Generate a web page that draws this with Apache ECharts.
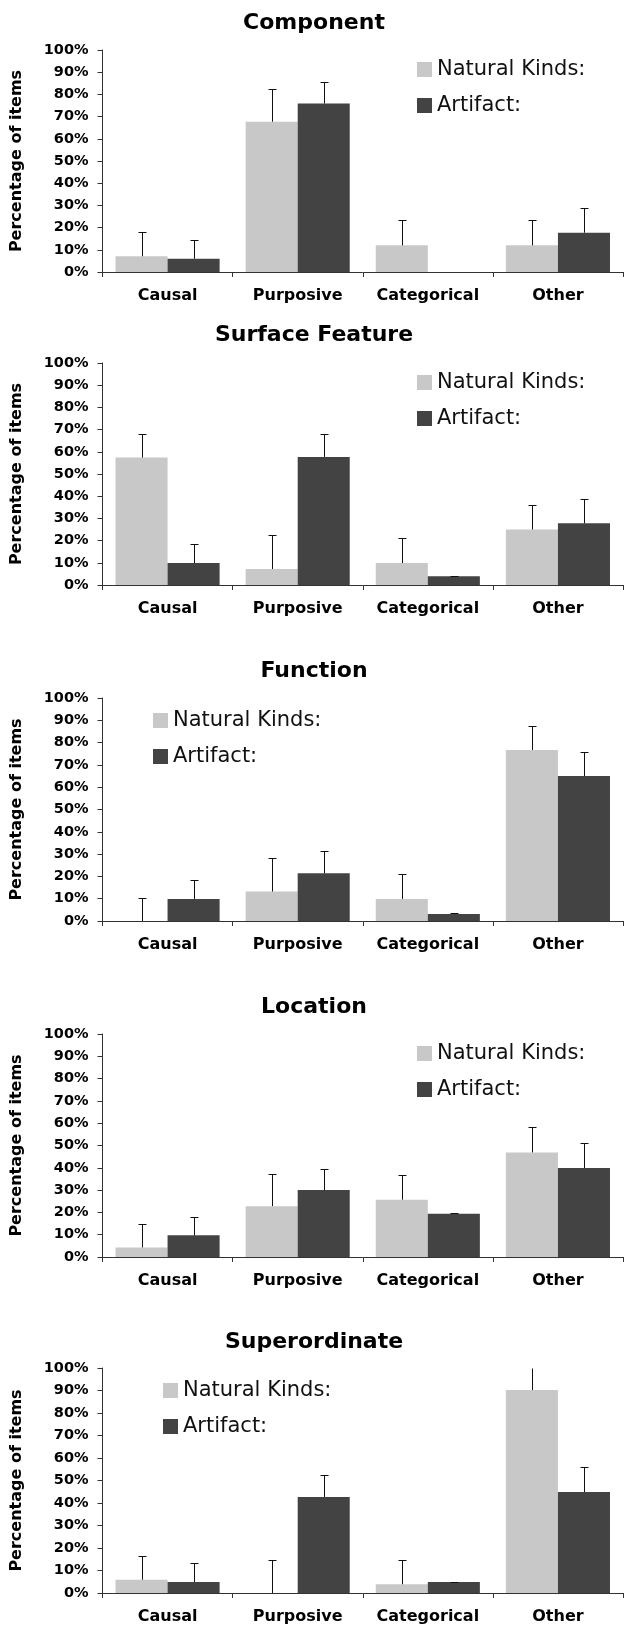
<!DOCTYPE html>
<html>
<head>
<meta charset="utf-8">
<script src="https://cdn.jsdelivr.net/npm/echarts@6/dist/echarts.min.js"></script>
<style>
html,body{margin:0;padding:0;background:#fff;}
#c{width:624px;height:1625px;}
</style>
</head>
<body>
<div id="c"></div>
<script>
// ---- data ----
const categories = ['Causal', 'Purposive', 'Categorical', 'Other'];
const panelTitles = ['Component', 'Surface Feature', 'Function', 'Location', 'Superordinate'];
const seriesNames = ['Natural Kinds:', 'Artifact:'];
const yTickLabels = ['0%','10%','20%','30%','40%','50%','60%','70%','80%','90%','100%'];

// Component
const componentNatural      = [7.1, 67.7, 12.0, 12.0];
const componentNaturalErr   = [17.9, 82.3, 23.3, 23.3];
const componentArtifact     = [6.0, 75.9, 0, 17.7];
const componentArtifactErr  = [14.6, 85.6, null, 28.9];
// Surface Feature
const surfaceNatural        = [57.4, 7.2, 9.9, 25.0];
const surfaceNaturalErr     = [67.8, 22.3, 21.1, 36.2];
const surfaceArtifact       = [9.9, 57.7, 3.9, 27.8];
const surfaceArtifactErr    = [18.3, 67.8, 4.1, 38.9];
// Function
const functionNatural       = [0, 13.2, 9.9, 76.7];
const functionNaturalErr    = [10.5, 28.1, 20.9, 87.6];
const functionArtifact      = [9.9, 21.4, 3.1, 65.0];
const functionArtifactErr   = [18.2, 31.5, 3.4, 75.6];
// Location
const locationNatural       = [4.3, 22.8, 25.7, 46.9];
const locationNaturalErr    = [14.8, 37.3, 36.7, 58.1];
const locationArtifact      = [9.7, 30.0, 19.4, 39.9];
const locationArtifactErr   = [18.1, 39.4, 19.6, 50.9];
// Superordinate
const superNatural          = [5.9, 0, 3.9, 90.2];
const superNaturalErr       = [16.4, 14.8, 14.8, 102];
const superArtifact         = [4.9, 42.7, 4.9, 44.9];
const superArtifactErr      = [13.2, 52.6, 5.0, 55.9];

const panels = [
  [componentNatural, componentNaturalErr, componentArtifact, componentArtifactErr],
  [surfaceNatural, surfaceNaturalErr, surfaceArtifact, surfaceArtifactErr],
  [functionNatural, functionNaturalErr, functionArtifact, functionArtifactErr],
  [locationNatural, locationNaturalErr, locationArtifact, locationArtifactErr],
  [superNatural, superNaturalErr, superArtifact, superArtifactErr]
];

// ---- layout ----
const gridTops = [50, 363, 698, 1034, 1368];
const gridHeights = [222, 222, 223, 223, 225];
const titleTops = [12, 324, 660, 996, 1331];
const legendPos = [[417, 59], [417, 372], [153, 710], [417, 1043], [163, 1380]];
const FONT = 'DejaVu Sans';
const LIGHT = '#c8c8c8', DARK = '#434343', AXIS = '#333';

function errRenderer(sign) {
  return function (params, api) {
    const idx = api.value(0), v = api.value(1);
    let up = api.value(2);
    const clipped = up > 100;
    if (clipped) up = 100;
    const base = api.coord([idx, v]);
    const top = api.coord([idx, up]);
    const band = api.size([1, 0])[0];
    const bw = band * 0.8 / 2;
    const x = Math.round(base[0] + sign * bw / 2) + 0.5;
    const yt = Math.round(top[1]) + 0.5;
    const children = [{
      type: 'line', shape: {x1: x, y1: base[1], x2: x, y2: yt},
      style: {stroke: '#111', lineWidth: 1}
    }];
    if (!clipped) {
      children.push({
        type: 'line', shape: {x1: x - 4, y1: yt, x2: x + 4, y2: yt},
        style: {stroke: '#111', lineWidth: 1}
      });
    }
    return {type: 'group', children};
  };
}

const option = {
  animation: false,
  backgroundColor: '#fff',
  title: [], grid: [], xAxis: [], yAxis: [], legend: [], series: []
};

panels.forEach((p, i) => {
  option.title.push({
    text: panelTitles[i], left: 314, textAlign: 'center', top: titleTops[i], padding: 0,
    textStyle: {fontFamily: FONT, fontWeight: 'bold', fontSize: 22, color: '#000'}
  });
  option.grid.push({left: 102.5, right: 1, top: gridTops[i], height: gridHeights[i]});
  option.xAxis.push({
    type: 'category', gridIndex: i, data: categories,
    axisLine: {lineStyle: {color: AXIS, width: 1}},
    axisTick: {show: true, length: 5, lineStyle: {color: AXIS}},
    axisLabel: {interval: 0, hideOverlap: false, fontFamily: FONT, fontWeight: 'bold', fontSize: 16, color: '#000', margin: 16}
  });
  option.yAxis.push({
    type: 'value', gridIndex: i, min: 0, max: 100, interval: 10,
    splitLine: {show: false},
    axisLine: {show: true, lineStyle: {color: AXIS, width: 1}},
    axisTick: {show: true, length: 5, lineStyle: {color: AXIS}},
    axisLabel: {
      fontFamily: FONT, fontWeight: 'bold', fontSize: 14.5, color: '#000', margin: 14,
      formatter: v => yTickLabels[Math.round(v / 10)]
    },
    name: 'Percentage of items', nameLocation: 'middle', nameGap: 78,
    nameTextStyle: {fontFamily: FONT, fontWeight: 'bold', fontSize: 16, color: '#000'}
  });
  option.legend.push({
    data: seriesNames, orient: 'vertical', left: legendPos[i][0], top: legendPos[i][1],
    padding: 0, itemWidth: 15, itemHeight: 15, itemGap: 15, icon: 'rect',
    selectedMode: false,
    textStyle: {fontFamily: FONT, fontSize: 21, color: '#111'}
  });
  const [nk, nkErr, ar, arErr] = p;
  option.series.push({
    type: 'bar', name: seriesNames[0], xAxisIndex: i, yAxisIndex: i, data: nk,
    barGap: '0%', barCategoryGap: '20%',
    itemStyle: {color: LIGHT, borderWidth: 0}
  });
  option.series.push({
    type: 'bar', name: seriesNames[1], xAxisIndex: i, yAxisIndex: i, data: ar,
    barGap: '0%', barCategoryGap: '20%',
    itemStyle: {color: DARK, borderWidth: 0}
  });
  const mk = (vals, errs) => vals.map((v, k) => errs[k] == null ? null : [k, v, errs[k]]).filter(d => d);
  option.series.push({
    type: 'custom', name: 'err-nk-' + i, xAxisIndex: i, yAxisIndex: i, z: 5,
    renderItem: errRenderer(-1), data: mk(nk, nkErr), encode: {x: 0, y: [1, 2]}, clip: false
  });
  option.series.push({
    type: 'custom', name: 'err-ar-' + i, xAxisIndex: i, yAxisIndex: i, z: 5,
    renderItem: errRenderer(1), data: mk(ar, arErr), encode: {x: 0, y: [1, 2]}, clip: false
  });
});

const chart = echarts.init(document.getElementById('c'), null, {renderer: 'canvas'});
chart.setOption(option);
</script>
</body>
</html>
